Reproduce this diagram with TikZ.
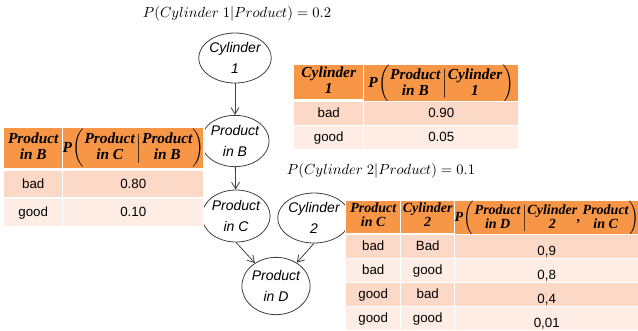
\documentclass[tikz,border=0pt]{standalone}
\usepackage{amsmath}
\usepackage{fontspec}
\setmainfont{Liberation Sans}
\newfontfamily\hfont{Liberation Serif}
\usetikzlibrary{arrows.meta,shapes.geometric}
\definecolor{hdr}{HTML}{F79646}
\definecolor{rowA}{HTML}{FCD9C7}
\definecolor{rowB}{HTML}{FDEDE5}
\definecolor{edge}{HTML}{404040}
\newcommand{\stk}[2]{\begin{tabular}{@{}c@{}}#1\\#2\end{tabular}}
\newcommand{\lp}{\hspace{0.5pt}$\bigg($}
\newcommand{\rp}{$\bigg)$}
\newcommand{\mb}{\hspace{1.5pt}$\Big|$}
\tikzset{
  bnode/.style={draw=edge, line width=0.6pt, ellipse, inner sep=0pt, font=\fontsize{10.5}{16}\selectfont\itshape, align=center},
  link/.style={draw=edge, line width=0.6pt, -{Straight Barb[length=5pt,width=6pt]}},
  cellbox/.style={draw=white, line width=1.1pt, inner sep=0pt, anchor=north west, align=center},
  hcell/.style={cellbox, fill=hdr, font=\fontsize{11.5}{12.3}\selectfont\hfont\bfseries\itshape},
  hcellsmall/.style={cellbox, fill=hdr, font=\fontsize{10.5}{10.6}\selectfont\hfont\bfseries\itshape},
  bodycell/.style={cellbox, font=\fontsize{10}{12}\selectfont, text height=7.2pt, text depth=1.8pt},
  acell/.style={bodycell, fill=rowA},
  bcell/.style={bodycell, fill=rowB},
  lowtext/.style={text height=12.6pt, text depth=0pt},
  eqtext/.style={inner sep=0pt, font=\fontsize{10.5}{12}\selectfont}
}
\begin{document}
\begin{tikzpicture}[x=0.75pt,y=-0.75pt]
\useasboundingbox (0,0) rectangle (638,330);
% titles
\node[eqtext] (t1) at (237,14) {$P(Cylinder\ 1|Product)=0.2$};
\node[eqtext] (t2) at (381,171) {$P(Cylinder\ 2|Product)=0.1$};
% network
\node[bnode, minimum width=46.5pt, minimum height=37.5pt] (c1) at (235,58) {Cylinder\\1};
\node[bnode, minimum width=46.5pt, minimum height=38.5pt] (pb) at (235,141) {Product\\in B};
\node[bnode, minimum width=46.5pt, minimum height=39pt] (pc) at (236,216) {Product\\in C};
\node[bnode, minimum width=46.5pt, minimum height=37.5pt] (c2) at (314,218) {Cylinder\\2};
\node[bnode, minimum width=43pt, minimum height=43pt] (pd) at (276,286) {Product\\in D};
\draw[link] (c1) -- (pb);
\draw[link] (pb) -- (pc);
\draw[link] (pc.south) -- (pd);
\draw[link] (c2.south) -- (pd);
% table 1
\node[hcell, minimum width=52.5pt, minimum height=26pt] (a11) at (293,64) {\stk{Cylinder}{1}};
\node[hcell, minimum width=116.25pt, minimum height=26pt] (a12) at (363,64) {P\lp\stk{Product}{in B}\mb\stk{Cylinder}{1}\rp};
\node[acell, minimum width=52.5pt, minimum height=18pt] (a21) at (293,101) {bad};
\node[acell, minimum width=116.25pt, minimum height=18pt] (a22) at (363,101) {0.90};
\node[bcell, minimum width=52.5pt, minimum height=18pt] (a31) at (293,125) {good};
\node[bcell, minimum width=116.25pt, minimum height=18pt] (a32) at (363,125) {0.05};
% table 2
\node[hcell, minimum width=44.25pt, minimum height=31pt] (b11) at (3,127) {\stk{Product}{in B}};
\node[hcell, minimum width=105.75pt, minimum height=31pt] (b12) at (62,127) {P\lp\stk{Product}{in C}\mb\stk{Product}{in B}\rp};
\node[acell, minimum width=44.25pt, minimum height=20.5pt] (b21) at (3,170) {bad};
\node[acell, minimum width=105.75pt, minimum height=20.5pt] (b22) at (62,170) {0.80};
\node[bcell, minimum width=44.25pt, minimum height=21pt] (b31) at (3,198) {good};
\node[bcell, minimum width=105.75pt, minimum height=21pt] (b32) at (62,198) {0.10};
% table 3
\node[hcellsmall, minimum width=41.25pt, minimum height=24.5pt] (d11) at (345,200) {\stk{Product}{in C}};
\node[hcellsmall, minimum width=40.5pt, minimum height=24.5pt] (d12) at (400,200) {\stk{Cylinder}{2}};
\node[hcellsmall, minimum width=138pt, minimum height=24.5pt] (d13) at (454,200) {P\lp\stk{Product}{in D}\mb\stk{Cylinder}{2},\hspace{1.5pt}\stk{Product}{in C}\rp};
\node[acell, minimum width=41.25pt, minimum height=18pt] (d21) at (345,234) {bad};
\node[acell, minimum width=40.5pt, minimum height=18pt] (d22) at (400,234) {Bad};
\node[acell, lowtext, minimum width=138pt, minimum height=18pt] (d23) at (454,234) {0,9};
\node[bcell, minimum width=41.25pt, minimum height=18pt] (d31) at (345,258) {bad};
\node[bcell, minimum width=40.5pt, minimum height=18pt] (d32) at (400,258) {good};
\node[bcell, lowtext, minimum width=138pt, minimum height=18pt] (d33) at (454,258) {0,8};
\node[acell, minimum width=41.25pt, minimum height=18pt] (d41) at (345,282) {good};
\node[acell, minimum width=40.5pt, minimum height=18pt] (d42) at (400,282) {bad};
\node[acell, lowtext, minimum width=138pt, minimum height=18pt] (d43) at (454,282) {0,4};
\node[bcell, minimum width=41.25pt, minimum height=18pt] (d51) at (345,306) {good};
\node[bcell, minimum width=40.5pt, minimum height=18pt] (d52) at (400,306) {good};
\node[bcell, lowtext, minimum width=138pt, minimum height=18pt] (d53) at (454,306) {0,01};
\end{tikzpicture}
\end{document}
